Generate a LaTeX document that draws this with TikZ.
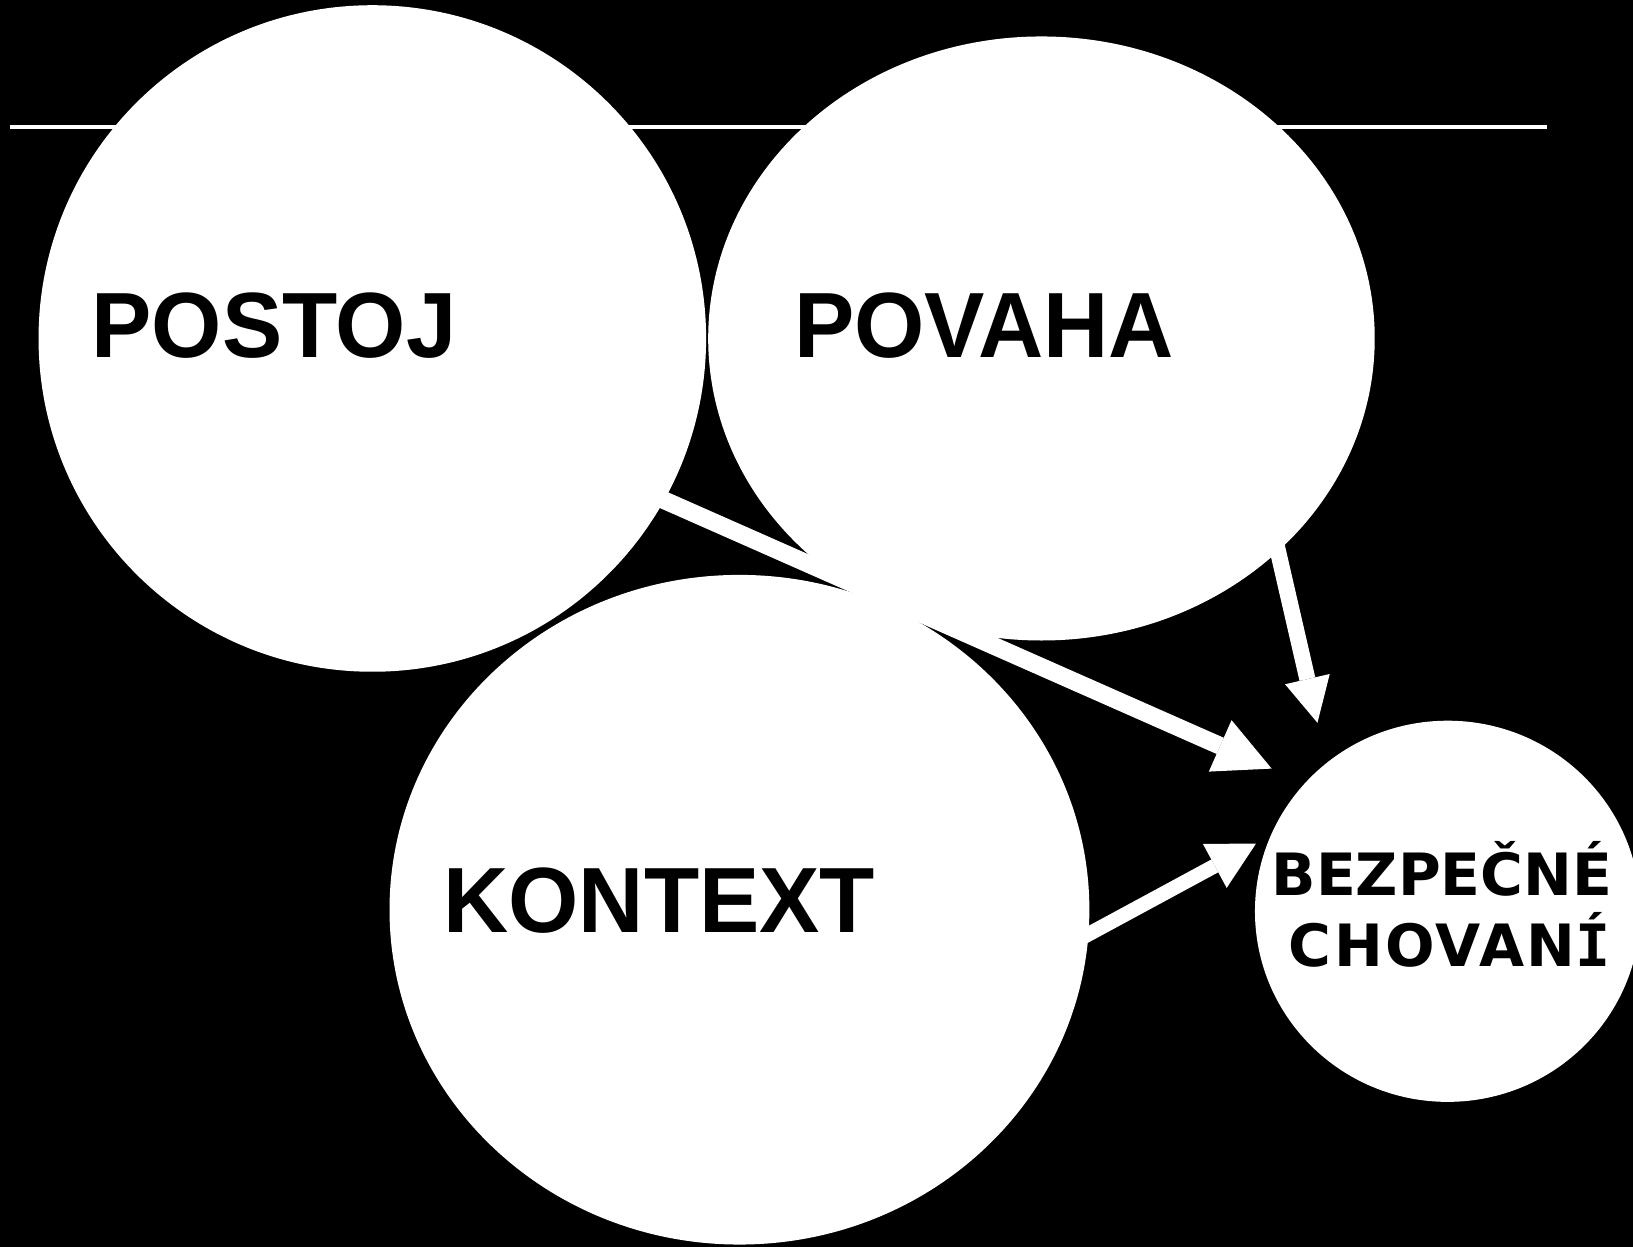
\documentclass[tikz,border=0pt]{standalone}
\usepackage{fontspec}
\newfontfamily\libsans{Liberation Sans}[FakeStretch=0.975]
\newfontfamily\dvsans{DejaVu Sans}
\newfontfamily\dvsansls{DejaVu Sans}[LetterSpace=4]
\newfontfamily\dvmono{DejaVu Sans Mono}
\usetikzlibrary{shapes.geometric,arrows.meta}
\tikzset{
  blob/.style={ellipse, fill=white, draw=none, inner sep=0pt},
  bigword/.style={font=\libsans\bfseries\fontsize{89}{100}\selectfont, text=black, anchor=base, inner sep=0pt},
  smallword/.style={font=\dvsans\bfseries\fontsize{56}{68}\selectfont, text=black, anchor=base, inner sep=0pt},
  flow/.style={draw=white, line cap=butt, shorten <=-30pt},
  rule/.style={draw=white, line width=3pt},
}
\begin{document}
\begin{tikzpicture}[x=1pt,y=-1pt]
  \fill[black] (0,0) rectangle (1568,1197);
  \useasboundingbox (0,0) rectangle (1568,1197);
  % horizontal rule behind the ellipses
  \coordinate (rl) at (10,122);
  \coordinate (rr) at (1485,122);
  \draw[rule] (rl) -- (rr);
  % ellipses
  \node[blob, minimum width=641pt, minimum height=640pt] (postoj) at (357.5,325) {};
  \node[blob, minimum width=640pt, minimum height=580pt] (povaha) at (1000,325) {};
  \node[blob, minimum width=672pt, minimum height=643pt] (kontext) at (710,873.5) {};
  \node[blob, minimum width=370pt, minimum height=366pt] (bez) at (1390,875) {};
  % labels
  \node[bigword] (tpostoj) at (263,343) {POSTOJ};
  \node[bigword] (tpovaha) at (945,343) {POVAHA};
  \node[bigword] (tkontext) at (633,895) {KONTEXT};
  \node[smallword] (tbez1) at (1384.5,860) {BEZPEČNÉ};
  \node[smallword, font=\dvsansls\bfseries\fontsize{56}{68}\selectfont] (tbez2) at (1392,928) {CHOVAN{\dvmono\bfseries Í}};
  % arrow tips
  \coordinate (t1) at (1221,738);
  \coordinate (t2) at (1265,694);
  \coordinate (t3) at (1206,810);
  % arrows
  \draw[flow, line width=17pt, -{Triangle[length=54pt,width=54pt,line width=0pt]}] (postoj.-29.3) -- (t1);
  \draw[flow, line width=15.5pt, -{Triangle[length=43pt,width=44pt,line width=0pt]}] (povaha.-42.7) -- (t2);
  \draw[flow, line width=14pt, -{Triangle[length=45pt,width=48pt,line width=0pt]}] (kontext.-4.6) -- (t3);
\end{tikzpicture}
\end{document}
